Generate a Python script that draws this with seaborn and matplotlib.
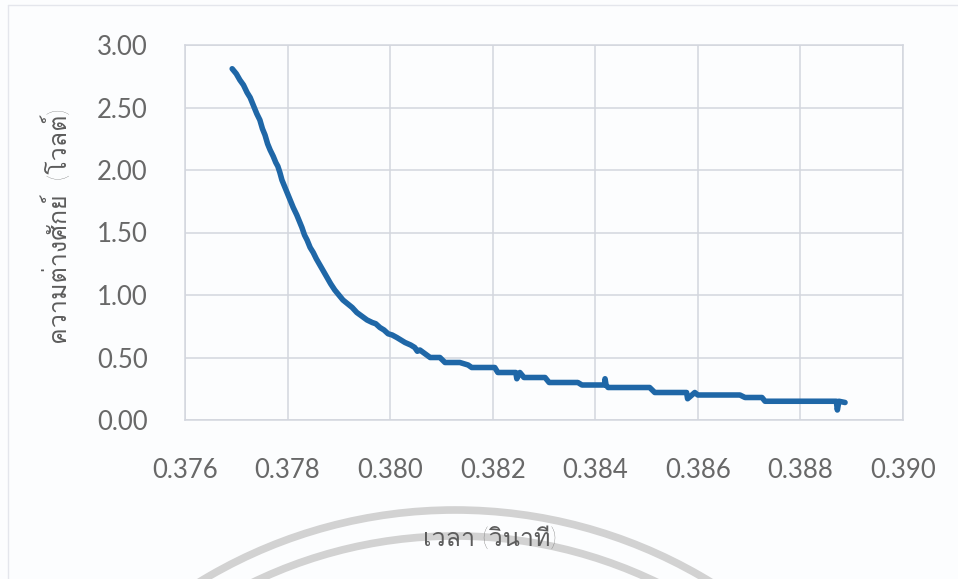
import numpy as np
import pandas as pd
import matplotlib
matplotlib.use("Agg")
import matplotlib.pyplot as plt
import seaborn as sns
from matplotlib import font_manager
from matplotlib.patches import Arc
from matplotlib.lines import Line2D

# ---------------- data ----------------
time_s = [0.37692, 0.37700, 0.37707, 0.37714, 0.37721, 0.37727, 0.37733, 0.37740,
          0.37746, 0.37751, 0.37756, 0.37761, 0.37766, 0.37772, 0.37777, 0.37781,
          0.37785, 0.37789, 0.37793, 0.37799, 0.37805, 0.37811, 0.37818, 0.37823,
          0.37828, 0.37833, 0.37838, 0.37844, 0.37850, 0.37856, 0.37863, 0.37870,
          0.37877, 0.37884, 0.37892, 0.37900, 0.37908, 0.37917, 0.37926, 0.37935,
          0.37945, 0.37955, 0.37965, 0.37972, 0.37980, 0.37988, 0.37996, 0.38004,
          0.38013, 0.38021, 0.38029, 0.38040, 0.38048, 0.38053, 0.38058, 0.38068,
          0.38078, 0.38097, 0.38107, 0.38136, 0.38152, 0.38159, 0.38204, 0.38210,
          0.38245, 0.38247, 0.38253, 0.38261, 0.38302, 0.38310, 0.38366, 0.38374,
          0.38418, 0.38419, 0.38421, 0.38425, 0.38506, 0.38516, 0.38578, 0.38580,
          0.38594, 0.38600, 0.38682, 0.38692, 0.38725, 0.38731, 0.38870, 0.38872,
          0.38875, 0.38887]
voltage_v = [2.81, 2.77, 2.72, 2.68, 2.62, 2.58, 2.52, 2.45,
             2.40, 2.33, 2.28, 2.21, 2.16, 2.11, 2.06, 2.03,
             1.98, 1.92, 1.88, 1.82, 1.76, 1.70, 1.64, 1.59,
             1.54, 1.48, 1.44, 1.38, 1.34, 1.29, 1.24, 1.19,
             1.14, 1.09, 1.04, 1.00, 0.96, 0.93, 0.90, 0.86,
             0.83, 0.80, 0.78, 0.77, 0.74, 0.72, 0.69, 0.68,
             0.66, 0.64, 0.62, 0.60, 0.58, 0.55, 0.56, 0.53,
             0.50, 0.50, 0.46, 0.46, 0.44, 0.42, 0.42, 0.38,
             0.38, 0.33, 0.38, 0.34, 0.34, 0.30, 0.30, 0.28,
             0.28, 0.33, 0.28, 0.26, 0.26, 0.22, 0.22, 0.17,
             0.22, 0.20, 0.20, 0.18, 0.18, 0.15, 0.15, 0.08,
             0.15, 0.14]
x_ticks = [0.376, 0.378, 0.380, 0.382, 0.384, 0.386, 0.388, 0.390]
y_ticks = [0.0, 0.5, 1.0, 1.5, 2.0, 2.5, 3.0]
x_label = "เวลา (วินาที)"
y_label = "ความต่างศักย์  (โวลต์)"

df = pd.DataFrame({"t": time_s, "v": voltage_v})

# ---------------- fonts: find a family with Thai glyphs ----------------
thai_family = None
try:
    from fontTools.ttLib import TTFont
    for f in font_manager.fontManager.ttflist:
        try:
            tt = TTFont(f.fname, fontNumber=0, lazy=True)
            cm = tt.getBestCmap()
            if cm and 0x0E04 in cm and 0x0E27 in cm:
                thai_family = f.name
                break
        except Exception:
            pass
except Exception:
    pass

sns.set_theme(style="white")
label_fams = ["Lato"] + ([thai_family] if thai_family else []) + ["DejaVu Sans"]
plt.rcParams["font.family"] = label_fams

text_col = "#5c5c5c"
tick_col = "#686868"
grid_col = "#d3d6de"
bg = "#fcfdfe"

W, H = 958, 579
fig = plt.figure(figsize=(W / 100, H / 100), dpi=100)
fig.patch.set_facecolor(bg)
ax = fig.add_axes([185 / W, 1 - 420 / H, (903 - 185) / W, (420 - 45) / H])
ax.set_facecolor(bg)

sns.lineplot(data=df, x="t", y="v", ax=ax, color="#1f67a7", linewidth=4.0,
             estimator=None, sort=False)

ax.set_xlim(0.376, 0.390)
ax.set_ylim(0.0, 3.0)
ax.set_xticks(x_ticks)
ax.set_yticks(y_ticks)
ax.set_xticklabels([f"{v:.3f}" for v in x_ticks])
ax.set_yticklabels([f"{v:.2f}" for v in y_ticks])
ax.tick_params(axis="x", length=0, pad=27, labelsize=18.5, labelcolor=tick_col)
ax.tick_params(axis="y", length=0, pad=27, labelsize=18.5, labelcolor=tick_col)

ax.grid(True, color=grid_col, linewidth=1.1)
ax.set_axisbelow(True)
for s in ax.spines.values():
    s.set_color(grid_col)
    s.set_linewidth(1.1)

ax.set_xlabel(x_label, fontsize=18, color=text_col, fontweight="light")
ax.set_ylabel(y_label, fontsize=18, color=text_col, fontweight="light")
ax.xaxis.set_label_coords((490 - 185) / 718, (420 - 527) / 375)
ax.yaxis.set_label_coords((72 - 185) / 718, (420 - 226) / 375)

# faint watermark arcs of the scanned page (display pixel coords)
cx, cy = 455, H - 1000
for r in (490, 464):
    arc = Arc((cx, cy), 2 * r, 2 * r, theta1=30, theta2=150,
              transform=None, color="#d2d2d2", linewidth=5.5, zorder=-5)
    fig.patches.append(arc)

# faint frame lines of the chart area
fig.add_artist(Line2D([8 / W, 8 / W], [0, 1 - 5 / H], transform=fig.transFigure,
                      color="#e4e6ec", linewidth=1.0, zorder=-5))
fig.add_artist(Line2D([8 / W, 1], [1 - 5 / H, 1 - 5 / H], transform=fig.transFigure,
                      color="#e4e6ec", linewidth=1.0, zorder=-5))

fig.savefig("out.png", dpi=100, facecolor=fig.get_facecolor())
